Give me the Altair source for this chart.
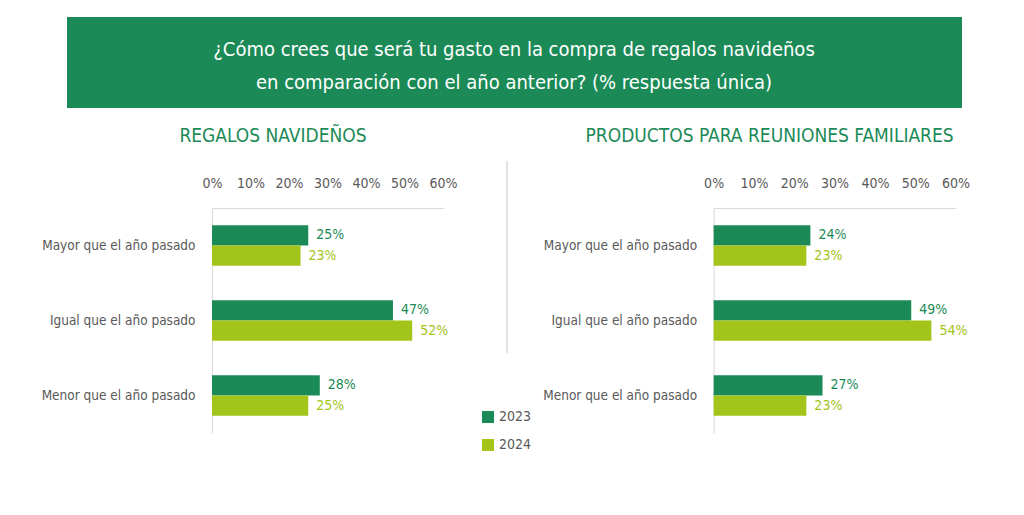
import altair as alt
import pandas as pd

categories = ["Mayor que el año pasado", "Igual que el año pasado", "Menor que el año pasado"]
years = ["2023", "2024"]
regalos_2023 = [25, 47, 28]
regalos_2024 = [23, 52, 25]
reuniones_2023 = [24, 49, 27]
reuniones_2024 = [23, 54, 23]
tick_values = [0, 0.1, 0.2, 0.3, 0.4, 0.5, 0.6]

banner_line1 = "¿Cómo crees que será tu gasto en la compra de regalos navideños"
banner_line2 = "en comparación con el año anterior? (% respuesta única)"
subtitle_left = "REGALOS NAVIDEÑOS"
subtitle_right = "PRODUCTOS PARA REUNIONES FAMILIARES"

DARK = "#1b8a57"
LIME = "#a3c41a"
GRAY = "#595959"
LINE = "#d9d9d9"
FONT = "Liberation Sans Narrow, DejaVu Sans Condensed, Roboto, sans-serif"


def frame(v23, v24):
    rows = []
    for c, a, b in zip(categories, v23, v24):
        rows.append({"cat": c, "year": "2023", "value": a / 100, "label": f"{a}%"})
        rows.append({"cat": c, "year": "2024", "value": b / 100, "label": f"{b}%"})
    return pd.DataFrame(rows)


color_scale = alt.Scale(domain=years, range=[DARK, LIME])
one = alt.Data(values=[{"k": 1}])

legend = alt.Legend(title=None, orient="none", legendX=269, legendY=202,
                    symbolType="square", symbolSize=144, symbolStrokeWidth=0,
                    labelFontSize=14, labelFont=FONT, labelColor=GRAY,
                    rowPadding=14, symbolOpacity=1, labelOffset=4)


def panel(df, width):
    y_enc = alt.Y("cat:N", sort=categories, title=None,
                  scale=alt.Scale(paddingInner=0.457, paddingOuter=0.2285),
                  axis=alt.Axis(ticks=False, domainColor=LINE, labelColor=GRAY,
                                labelFontSize=13.5, labelFont=FONT, labelPadding=17,
                                labelLimit=300))
    x_enc = alt.X("value:Q", title=None,
                  scale=alt.Scale(domain=[0, 0.6], nice=False),
                  axis=alt.Axis(orient="top", format=".0%", values=tick_values,
                                grid=False, ticks=False, domainColor=LINE,
                                labelColor=GRAY, labelFontSize=14, labelFont=FONT,
                                labelPadding=18, labelOverlap=False, labelFlush=False,
                                labelBound=False))
    yoff = alt.YOffset("year:N", sort=years, scale=alt.Scale(paddingInner=0, paddingOuter=0))
    bars = alt.Chart(df).mark_bar(opacity=1).encode(
        x=x_enc, y=y_enc, yOffset=yoff,
        color=alt.Color("year:N", scale=color_scale, legend=legend),
    )
    labels = alt.Chart(df).mark_text(align="left", baseline="middle", dx=8,
                                     fontSize=14, font=FONT).encode(
        x=x_enc, y=y_enc, yOffset=yoff,
        text="label:N",
        color=alt.condition(alt.datum.year == "2023", alt.value(DARK), alt.value(LIME)),
    )
    return bars, labels


left_df = frame(regalos_2023, regalos_2024)
right_df = frame(reuniones_2023, reuniones_2024)

lb, ll = panel(left_df, 231)
rb, rl = panel(right_df, 242)

anchor = alt.Chart(one).mark_rect(opacity=0).encode(
    x=alt.value(-204), x2=alt.value(-203), y=alt.value(-200), y2=alt.value(-199))
banner = alt.Chart(one).mark_rect(color=DARK).encode(
    x=alt.value(-145), x2=alt.value(750), y=alt.value(-191), y2=alt.value(-100))
b1 = alt.Chart(one).mark_text(text=banner_line1, color="white", fontSize=20, font=FONT,
                              align="center", baseline="alphabetic").encode(
    x=alt.value(302), y=alt.value(-152))
b2 = alt.Chart(one).mark_text(text=banner_line2, color="white", fontSize=20, font=FONT,
                              align="center", baseline="alphabetic").encode(
    x=alt.value(302), y=alt.value(-119))
s_left = alt.Chart(one).mark_text(text=subtitle_left, color=DARK, fontSize=19, font=FONT,
                                  align="center", baseline="middle").encode(
    x=alt.value(61), y=alt.value(-72))
divider = alt.Chart(one).mark_rule(color=LINE, strokeWidth=1.5).encode(
    x=alt.value(295), y=alt.value(-47), y2=alt.value(145))
s_right = alt.Chart(one).mark_text(text=subtitle_right, color=DARK, fontSize=19, font=FONT,
                                   align="center", baseline="middle").encode(
    x=alt.value(56), y=alt.value(-72))

left = alt.layer(anchor, banner, b1, b2, s_left, divider, lb, ll).properties(width=231, height=225)
right = alt.layer(s_right, rb, rl).properties(width=242, height=225)

chart = alt.hconcat(left, right, spacing=270.6, bounds="flush").properties(
    padding=0, background="white"
).configure_view(stroke=None)

chart.save("out.html", embed_options={"renderer": "svg", "actions": False})
